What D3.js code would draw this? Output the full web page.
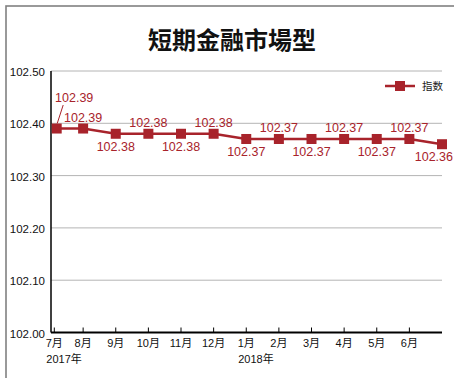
<!DOCTYPE html>
<html>
<head>
<meta charset="utf-8">
<script src="https://cdn.jsdelivr.net/npm/d3@7"></script>
<style>
  body { margin: 0; background: #fff; }
  svg { display: block; font-family: "Liberation Sans", Arial, "Noto Sans CJK TC", sans-serif; }
</style>
</head>
<body>
<div id="chart"></div>
<script>
'use strict';

var title = '短期金融市場型';
var seriesName = '指数';
var monthLabels = ['7月', '8月', '9月', '10月', '11月', '12月', '1月', '2月', '3月', '4月', '5月', '6月', ''];
var yearLabels = [{ index: 0, text: '2017年' }, { index: 6, text: '2018年' }];
var values = [102.39, 102.39, 102.38, 102.38, 102.38, 102.38, 102.37, 102.37, 102.37, 102.37, 102.37, 102.37, 102.36];
var yTicks = [102.00, 102.10, 102.20, 102.30, 102.40, 102.50];

var red = '#a8232b';
var width = 454, height = 378;
var margin = { top: 71, right: 12, bottom: 45.5, left: 51 };

var svg = d3.select('#chart').append('svg')
    .attr('width', width)
    .attr('height', height);

// outer frame (only top/left show inside the window)
svg.append('rect')
  .attr('x', 6).attr('y', 6)
  .attr('width', width + 20).attr('height', height + 20)
  .attr('fill', 'none')
  .attr('stroke', '#808080')
  .attr('stroke-width', 1.6);

svg.append('text')
  .attr('x', 232).attr('y', 49)
  .attr('text-anchor', 'middle')
  .attr('font-family', '"Noto Sans CJK TC", sans-serif')
  .attr('font-size', 24)
  .attr('font-weight', 'bold')
  .attr('fill', '#111')
  .text(title);

var x = d3.scalePoint()
  .domain(d3.range(values.length))
  .range([margin.left - 0.5, width - margin.right]);

var y = d3.scaleLinear()
  .domain([102.00, 102.50])
  .range([height - margin.bottom, margin.top]);

// first category sits on the axis, push it inside a bit
function px(i) { return Math.max(x(i), margin.left + 5.7); }
function tx(i) { return Math.max(x(i), margin.left + 3.3); }

var g = svg.append('g');

// grid
g.selectAll('line.grid')
  .data(yTicks.filter(function(d) { return d > 102.0; }))
  .enter().append('line')
  .attr('class', 'grid')
  .attr('x1', margin.left).attr('x2', width - margin.right)
  .attr('y1', function(d) { return y(d); })
  .attr('y2', function(d) { return y(d); })
  .attr('stroke', '#b4b4b4')
  .attr('stroke-width', 1);

// y tick labels
g.selectAll('text.ylab')
  .data(yTicks)
  .enter().append('text')
  .attr('class', 'ylab')
  .attr('x', margin.left - 6)
  .attr('y', function(d) { return y(d) + 5; })
  .attr('text-anchor', 'end')
  .attr('font-size', 11.5)
  .attr('fill', '#111')
  .text(function(d) { return d.toFixed(2); });

// axes lines
g.append('line')
  .attr('x1', margin.left).attr('x2', margin.left)
  .attr('y1', y(102.5)).attr('y2', y(102.0))
  .attr('stroke', '#000').attr('stroke-width', 1.5);

g.append('line')
  .attr('x1', margin.left).attr('x2', width - margin.right)
  .attr('y1', y(102.0)).attr('y2', y(102.0))
  .attr('stroke', '#000').attr('stroke-width', 2);

// x ticks (pointing up)
g.selectAll('line.xtick')
  .data(d3.range(monthLabels.length - 1))
  .enter().append('line')
  .attr('class', 'xtick')
  .attr('x1', function(i) { return tx(i); })
  .attr('x2', function(i) { return tx(i); })
  .attr('y1', y(102.0)).attr('y2', y(102.0) - 5)
  .attr('stroke', '#000').attr('stroke-width', 1);

g.selectAll('text.xlab')
  .data(monthLabels)
  .enter().append('text')
  .attr('class', 'xlab')
  .attr('x', function(d, i) { return tx(i); })
  .attr('y', y(102.0) + 14.5)
  .attr('text-anchor', 'middle')
  .attr('font-size', 11)
  .attr('fill', '#111')
  .text(function(d) { return d; });

g.selectAll('text.year')
  .data(yearLabels)
  .enter().append('text')
  .attr('class', 'year')
  .attr('x', function(d) { return tx(d.index) - 8; })
  .attr('y', y(102.0) + 30.5)
  .attr('font-size', 11)
  .attr('fill', '#111')
  .text(function(d) { return d.text; });

// series
var line = d3.line()
  .x(function(d, i) { return px(i); })
  .y(function(d) { return y(d); });

g.append('path')
  .datum(values)
  .attr('d', line)
  .attr('fill', 'none')
  .attr('stroke', red)
  .attr('stroke-width', 2.5);

g.selectAll('rect.pt')
  .data(values)
  .enter().append('rect')
  .attr('class', 'pt')
  .attr('x', function(d, i) { return px(i) - 5; })
  .attr('y', function(d) { return y(d) - 5; })
  .attr('width', 10).attr('height', 10)
  .attr('fill', red);

// value labels: alternate above / below, first one lifted with a leader
g.append('line')
  .attr('x1', px(0) + 0.5).attr('y1', y(values[0]) - 5)
  .attr('x2', px(0) + 6.5).attr('y2', y(values[0]) - 23.5)
  .attr('stroke', red).attr('stroke-width', 1);

var lastIdx = values.length - 1;

g.selectAll('text.val')
  .data(values)
  .enter().append('text')
  .attr('class', 'val')
  .attr('x', function(d, i) {
    if (i === 0) return px(i) + 17.5;
    if (i === lastIdx) return width - 1;
    return px(i);
  })
  .attr('y', function(d, i) {
    if (i === 0) return y(d) - 27;
    return i % 2 === 1 ? y(d) - 7 : y(d) + 17;
  })
  .attr('text-anchor', function(d, i) { return i === lastIdx ? 'end' : 'middle'; })
  .attr('font-size', 12.5)
  .attr('fill', red)
  .text(function(d) { return d.toFixed(2); });

// legend
var lg = svg.append('g').attr('transform', 'translate(385,86)');
lg.append('line')
  .attr('x1', 0).attr('x2', 30)
  .attr('stroke', red).attr('stroke-width', 2.5);
lg.append('rect')
  .attr('x', 10).attr('y', -5)
  .attr('width', 10).attr('height', 10)
  .attr('fill', red);
lg.append('text')
  .attr('x', 37).attr('y', 4)
  .attr('font-size', 10.5)
  .attr('font-family', '"Noto Sans CJK TC", sans-serif')
  .attr('fill', '#222')
  .text(seriesName);
</script>
</body>
</html>
